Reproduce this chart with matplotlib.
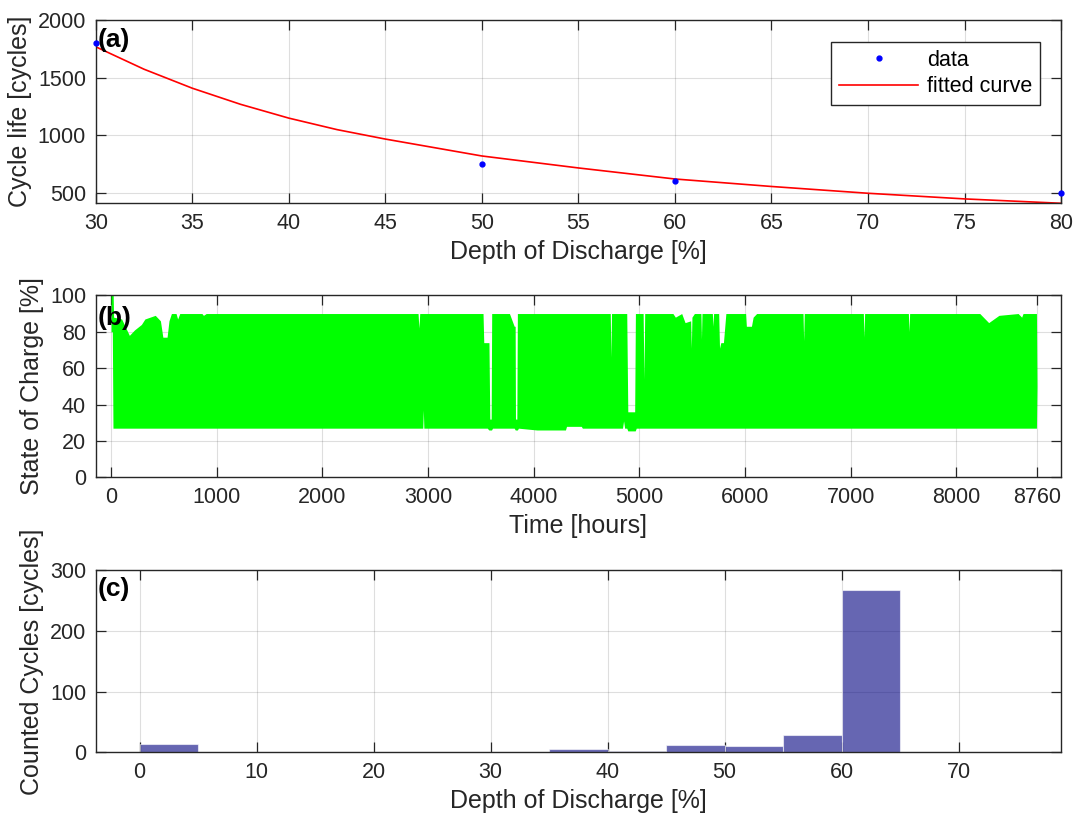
import matplotlib
matplotlib.use('Agg')
from matplotlib import pyplot as plt
import numpy as np

plt.rcParams['font.family'] = ['Liberation Sans', 'DejaVu Sans']

# (a) cycle life vs depth of discharge
dod_data = [30, 50, 60, 80]
life_data = [1800, 750, 600, 500]
dod_fit = [30, 32.5, 35, 37.5, 40, 42.5, 45, 50, 55, 60, 65, 70, 75, 80]
life_fit = [1770, 1575, 1410, 1270, 1150, 1050, 968, 821, 717, 621, 556, 497, 448, 410]

# (b) state of charge, upper / lower envelope
soc_up_t = [0, 20, 24, 100, 173, 222, 287, 320, 418, 467, 490, 530, 548, 571, 615, 630, 650,
            860, 874, 900, 2905, 2913, 2921, 3520, 3527, 3576, 3584, 3597, 3602, 3770, 3815,
            3824, 3827, 3840, 3845, 4724, 4730, 4736, 4880, 4890, 4955, 4962, 5035, 5043, 5050,
            5317, 5340, 5400, 5432, 5485, 5491, 5497, 5520, 5582, 5587, 5592, 5690, 5696, 5702,
            5750, 5758, 5770, 5795, 5818, 6005, 6012, 6060, 6076, 6109, 6548, 6554, 6560, 7119,
            7125, 7131, 7545, 7551, 7557, 8221, 8305, 8402, 8584, 8617, 8630, 8757, 8762]
soc_up = [100, 100, 88, 87, 78, 81, 84, 87, 89, 86, 77, 77, 86, 90, 90, 87, 90,
          90, 89, 90, 90, 82, 90, 90, 74, 74, 32, 32, 90, 90, 83,
          83, 32, 32, 90, 90, 66, 90, 90, 36, 36, 90, 90, 54, 90,
          90, 88, 90, 85, 86, 71, 88, 90, 90, 76, 90, 90, 83, 90,
          90, 71, 74, 74, 90, 90, 83, 83, 88, 90, 90, 75, 90, 90,
          77, 90, 90, 80, 90, 90, 85, 89, 90, 88, 90, 90, 50]
soc_lo_t = [0, 12, 18, 2950, 2955, 2960, 3560, 3575, 3600, 3610, 3815, 3825, 3845, 3855,
            4030, 4300, 4310, 4450, 4460, 4840, 4850, 4860, 4880, 4890, 4960, 4970, 8757, 8762]
soc_lo = [80, 80, 27, 27, 37, 27, 27, 26, 26, 27, 27, 26, 26, 27,
          26, 26, 28, 28, 27, 27, 31, 27, 27, 25.5, 25.5, 27, 27, 50]

# (c) histogram of counted cycles
bin_edges = [0, 5, 10, 15, 20, 25, 30, 35, 40, 45, 50, 55, 60, 65, 70, 75]
counts = [14, 0, 0, 0, 1, 0, 0, 5, 3, 12, 10, 29, 267, 0, 0]

dark = '#262626'


def style(ax):
	ax.grid(True, color=dark, alpha=0.15, lw=0.8)
	ax.set_axisbelow(True)
	for s in ax.spines.values():
		s.set_color(dark)
		s.set_linewidth(1.0)
	ax.tick_params(direction='in', length=7, width=0.9, top=True, right=True,
				   labelsize=15.5, colors=dark, pad=7)


fig = plt.figure(figsize=(10.77, 8.19), dpi=100)
ax1 = fig.add_axes([0.0889, 0.7518, 0.8963, 0.2234])
ax2 = fig.add_axes([0.0889, 0.4172, 0.8963, 0.2222])
ax3 = fig.add_axes([0.0889, 0.0814, 0.8963, 0.2222])

# (a)
ax1.plot(dod_data, life_data, '.', color='blue', ms=7, label='data', zorder=3, clip_on=False)
ax1.plot(dod_fit, life_fit, '-', color='red', lw=1.2, label='fitted curve')
ax1.set_xlim(30, 80)
ax1.set_ylim(410, 2000)
ax1.set_xticks(range(30, 81, 5))
ax1.set_yticks([500, 1000, 1500, 2000])
style(ax1)
ax1.set_xlabel('Depth of Discharge [%]', fontsize=18, color=dark, labelpad=4)
ax1.set_ylabel('Cycle life [cycles]', fontsize=18, color=dark, labelpad=4)
leg = ax1.legend(loc='upper right', bbox_to_anchor=(0.978, 0.88), borderaxespad=0,
				 fontsize=15.5, handlelength=3.7, handletextpad=0.4, fancybox=False,
				 framealpha=1, edgecolor=dark, borderpad=0.35, labelspacing=0.25)
leg.get_frame().set_linewidth(1.0)
ax1.text(0.002, 0.89, '(a)', transform=ax1.transAxes, fontsize=19, fontweight='bold', va='center')

# (b) both envelopes on the union of their breakpoints
t_all = np.union1d(soc_up_t, soc_lo_t)
up_all = np.interp(t_all, soc_up_t, soc_up)
lo_all = np.interp(t_all, soc_lo_t, soc_lo)
ax2.fill_between(t_all, lo_all, np.maximum(up_all, lo_all), color='#00ff00', lw=0)
ax2.set_xlim(-145, 8990)
ax2.set_ylim(0, 100)
ax2.set_xticks([0, 1000, 2000, 3000, 4000, 5000, 6000, 7000, 8000, 8760])
ax2.set_yticks(range(0, 101, 20))
style(ax2)
ax2.set_xlabel('Time [hours]', fontsize=18, color=dark, labelpad=4)
ax2.set_ylabel('State of Charge [%]', fontsize=18, color=dark, labelpad=4)
ax2.text(0.002, 0.874, '(b)', transform=ax2.transAxes, fontsize=19, fontweight='bold', va='center')

# (c)
ax3.bar(bin_edges[:-1], counts, width=5, align='edge', color=(0, 0, 0.5), alpha=0.6,
		edgecolor='white', lw=0.8)
ax3.set_xlim(-3.75, 78.75)
ax3.set_ylim(0, 300)
ax3.set_xticks(range(0, 71, 10))
ax3.set_yticks([0, 100, 200, 300])
style(ax3)
ax3.set_xlabel('Depth of Discharge [%]', fontsize=18, color=dark, labelpad=4)
ax3.set_ylabel('Counted Cycles [cycles]', fontsize=18, color=dark, labelpad=4)
ax3.text(0.002, 0.9, '(c)', transform=ax3.transAxes, fontsize=19, fontweight='bold', va='center')

fig.savefig('out.png', dpi=100)
